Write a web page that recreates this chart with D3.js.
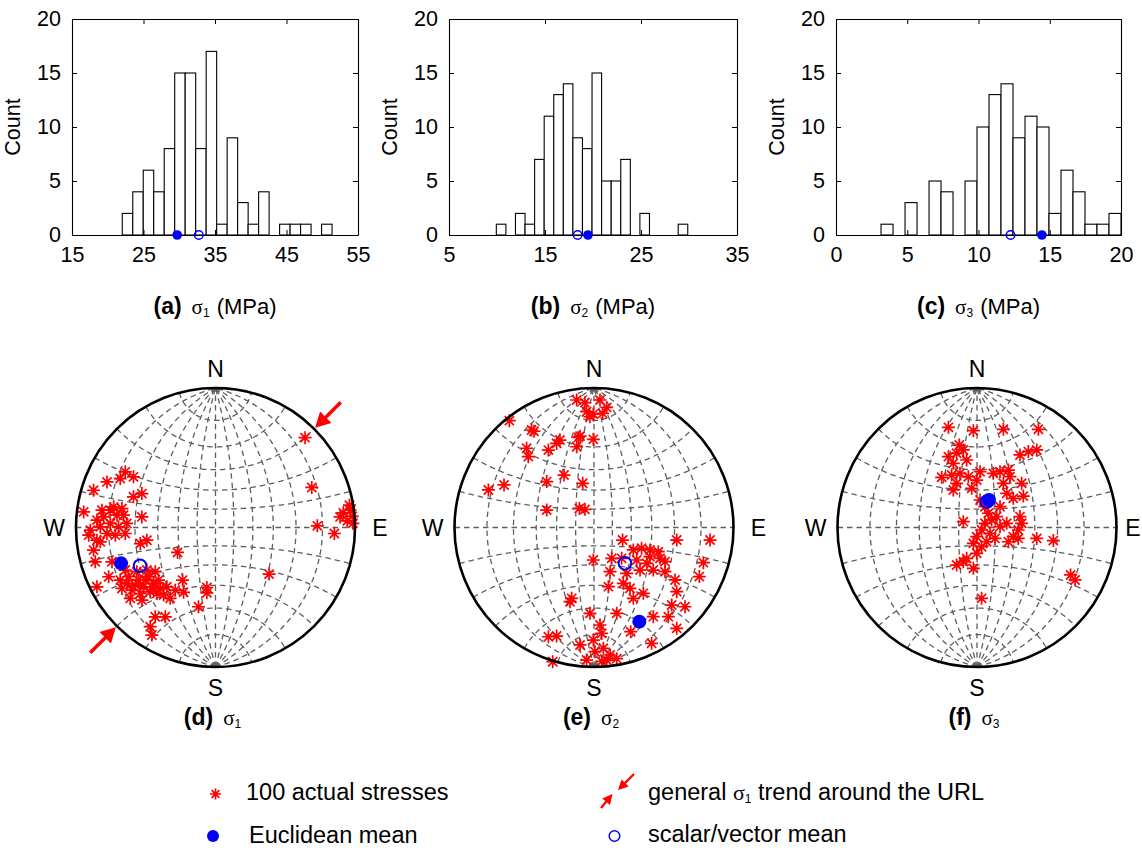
<!DOCTYPE html>
<html>
<head>
<meta charset="utf-8">
<script src="https://cdn.jsdelivr.net/npm/d3@7"></script>
<style>
  body { margin: 0; background: #fff; }
  svg text { font-family: "Liberation Sans", Arial, sans-serif; fill: #000; }
  .sym { font-family: "Liberation Serif", "Times New Roman", serif; }
</style>
</head>
<body>
<svg id="fig" width="1142" height="848"></svg>
<script>
// ---- histogram data (counts per bin, first bin edge and bin width, MPa) ----
const s1Counts = [2, 4, 6, 4, 8, 15, 15, 8, 17, 1, 9, 3, 1, 4, 0, 1, 1, 1, 0, 1];
const s1Bins = [22.03, 1.467];
const s2Counts = [1, 0, 2, 1, 7, 11, 13, 14, 9, 8, 15, 5, 5, 7, 0, 2, 0, 0, 0, 1];
const s2Bins = [9.93, 0.997];
const s3Counts = [1, 0, 3, 0, 5, 4, 0, 5, 10, 13, 14, 9, 11, 10, 2, 6, 4, 1, 1, 2];
const s3Bins = [3.16, 0.842];

// magnitudes of the means: [euclidean, scalar/vector]
const s1Means = [29.71, 32.74];
const s2Means = [19.48, 18.4];
const s3Means = [14.45, 12.25];

const s1XTicks = [15, 25, 35, 45, 55];
const s2XTicks = [5, 15, 25, 35];
const s3XTicks = [0, 5, 10, 15, 20];
const countTicks = [0, 5, 10, 15, 20];

// ---- stereonet data: projected positions [east, north], primitive radius = 1 ----
const s1Points = [
  [0.642, 0.644], [0.690, 0.287], [0.916, 0.105], [0.964, 0.124], [0.98, 0.08],
  [0.945, 0.048], [0.985, 0.03], [0.893, 0.076], [0.96, 0.16], [0.730, 0.012],
  [0.852, -0.043], [0.384, -0.334], [-0.272, -0.179], [-0.062, -0.430], [-0.062, -0.468],
  [-0.122, -0.568], [-0.236, -0.377], [-0.289, -0.449], [-0.229, -0.465], [-0.647, 0.399],
  [-0.683, 0.351], [-0.588, 0.363], [-0.778, 0.327], [-0.874, 0.267], [-0.528, 0.243],
  [-0.588, 0.220], [-0.528, 0.076], [-0.945, 0.112], [-0.850, 0.053], [-0.802, 0.076],
  [-0.754, 0.124], [-0.706, 0.088], [-0.659, 0.088], [-0.826, 0.005], [-0.754, 0.029],
  [-0.695, 0.005], [-0.778, -0.043], [-0.718, -0.055], [-0.647, -0.043], [-0.909, -0.055],
  [-0.850, -0.091], [-0.826, -0.103], [-0.874, -0.162], [-0.539, -0.115], [-0.492, -0.091],
  [-0.862, -0.246], [-0.742, -0.246], [-0.850, -0.425], [-0.766, -0.353], [-0.683, -0.377],
  [-0.635, -0.401], [-0.599, -0.449], [-0.611, -0.508], [-0.551, -0.377], [-0.516, -0.425],
  [-0.539, -0.473], [-0.480, -0.353], [-0.444, -0.401], [-0.468, -0.461], [-0.408, -0.377],
  [-0.396, -0.437], [-0.372, -0.484], [-0.492, -0.305], [-0.432, -0.317], [-0.564, -0.317],
  [-0.647, -0.305], [-0.325, -0.508], [-0.432, -0.640], [-0.360, -0.640], [-0.468, -0.711],
  [-0.456, -0.771], [-0.730, 0.148], [-0.671, 0.136], [-0.814, 0.124], [-0.897, -0.019],
  [-0.636, 0.029], [-0.504, -0.377], [-0.456, -0.425], [-0.575, -0.413], [-0.420, -0.473],
  [-0.527, -0.520], [-0.623, -0.353], [-0.671, -0.437], [-0.349, -0.425]
];
const s2Points = [
  [-0.124, 0.914], [-0.065, 0.895], [0.043, 0.914], [0.091, 0.861], [-0.053, 0.830],
  [-0.005, 0.813], [0.062, 0.818], [-0.029, 0.794], [-0.607, 0.766], [-0.447, 0.699],
  [-0.430, 0.690], [-0.483, 0.568], [-0.471, 0.508], [-0.327, 0.555], [-0.268, 0.603],
  [-0.244, 0.627], [-0.112, 0.646], [-0.124, 0.579], [-0.100, 0.655], [-0.005, 0.632],
  [-0.215, 0.376], [-0.339, 0.329], [-0.081, 0.317], [-0.757, 0.269], [-0.645, 0.305],
  [-0.339, 0.125], [-0.105, 0.137], [-0.065, 0.130], [0.205, -0.090], [0.593, -0.090],
  [0.832, -0.090], [-0.005, -0.233], [0.127, -0.221], [0.282, -0.161], [0.341, -0.149],
  [0.401, -0.161], [0.461, -0.173], [0.306, -0.233], [0.378, -0.257], [0.509, -0.245],
  [0.425, -0.305], [0.330, -0.305], [0.115, -0.317], [0.234, -0.329], [0.509, -0.317],
  [0.581, -0.376], [0.784, -0.252], [0.755, -0.352], [0.210, -0.400], [0.103, -0.424],
  [0.258, -0.436], [0.354, -0.472], [0.282, -0.508], [0.593, -0.460], [0.557, -0.556],
  [0.652, -0.568], [0.533, -0.639], [0.425, -0.639], [0.593, -0.723], [0.163, -0.615],
  [0.263, -0.747], [0.413, -0.830], [0.198, -0.221], [0.473, -0.221], [0.401, -0.209],
  [-0.160, -0.508], [-0.172, -0.532], [-0.029, -0.615], [0.043, -0.699], [0.055, -0.759],
  [-0.005, -0.807], [-0.100, -0.842], [0.067, -0.866], [0.115, -0.914], [-0.053, -0.950],
  [0.055, -0.960], [0.163, -0.940], [0.007, -0.890], [0.091, -0.950], [-0.327, -0.783],
  [-0.268, -0.778], [-0.296, -0.962]
];
const s3Points = [
  [-0.205, 0.718], [-0.026, 0.694], [0.189, 0.704], [0.440, 0.704], [-0.127, 0.591],
  [-0.098, 0.556], [-0.205, 0.508], [-0.170, 0.460], [-0.074, 0.484], [-0.146, 0.532],
  [0.308, 0.520], [0.368, 0.544], [0.428, 0.556], [-0.253, 0.360], [-0.182, 0.376],
  [-0.122, 0.388], [-0.062, 0.364], [-0.146, 0.317], [-0.170, 0.269], [-0.038, 0.281],
  [0.022, 0.400], [-0.002, 0.340], [0.117, 0.388], [0.165, 0.400], [0.225, 0.412],
  [0.236, 0.364], [0.189, 0.317], [0.320, 0.317], [0.332, 0.225], [0.260, 0.209],
  [0.213, 0.245], [0.022, 0.197], [0.057, 0.149], [0.081, 0.102], [0.105, 0.054],
  [0.057, 0.030], [0.141, 0.078], [0.165, 0.149], [0.033, -0.018], [0.093, -0.042],
  [0.165, 0.006], [0.213, 0.030], [-0.002, -0.066], [0.069, -0.102], [0.129, -0.078],
  [-0.026, -0.114], [0.033, -0.138], [0.308, 0.078], [0.320, 0.030], [0.296, -0.018],
  [0.260, -0.066], [0.225, -0.102], [0.296, -0.078], [-0.098, 0.042], [0.428, -0.078],
  [0.547, -0.094], [-0.002, -0.185], [-0.074, -0.221], [-0.146, -0.269], [-0.026, -0.293],
  [-0.098, -0.245], [0.671, -0.340], [0.703, -0.376], [0.033, -0.508]
];
// mean directions on the net: [euclidean, scalar/vector]
const s1NetMeans = [[-0.677, -0.257], [-0.541, -0.274]];
const s2NetMeans = [[0.325, -0.675], [0.222, -0.257]];
const s3NetMeans = [[0.086, 0.197], [0.07, 0.185]];
const trendArrow = 45; // general sigma1 trend, degrees from N

const svg = d3.select('#fig');
const RED = '#ff0000', BLUE = '#0000ff';

function caption(x, y, letter, sub, unit) {
    const t = svg.append('text').attr('x', x).attr('y', y).attr('text-anchor', 'middle');
    t.append('tspan').attr('font-weight', 'bold').attr('font-size', 23).text('(' + letter + ')');
    t.append('tspan').attr('class', 'sym').attr('dx', 10).attr('font-size', 21).text('σ');
    t.append('tspan').attr('font-size', 12).attr('dy', 3).text(sub);
    if (unit) t.append('tspan').attr('font-size', 22).attr('dy', -3).attr('dx', 7).text(unit);
}

function asterisk(g, x, y, r) {
    const d = r * Math.SQRT1_2;
    g.append('path')
        .attr('d', `M${x - r},${y}H${x + r}M${x},${y - r}V${y + r}` +
                   `M${x - d},${y - d}L${x + d},${y + d}M${x - d},${y + d}L${x + d},${y - d}`)
        .attr('stroke', RED).attr('stroke-width', 1.7).attr('fill', 'none');
}

function drawHist(left, right, domain, ticks, counts, bins, means, letter, sub) {
    const top = 19, bottom = 235;
    const x = d3.scaleLinear().domain(domain).range([left, right]);
    const y = d3.scaleLinear().domain([0, 20]).range([bottom, top]);
    const g = svg.append('g');

    g.selectAll('rect.bar').data(counts).enter().append('rect')
        .attr('x', (d, i) => x(bins[0] + i * bins[1]))
        .attr('width', (d, i) => x(bins[0] + (i + 1) * bins[1]) - x(bins[0] + i * bins[1]))
        .attr('y', d => y(d))
        .attr('height', d => y(0) - y(d))
        .attr('fill', '#fff').attr('stroke', '#000').attr('stroke-width', 1.1);

    g.append('g').attr('transform', `translate(0,${bottom})`)
        .call(d3.axisBottom(x).tickValues(ticks).tickSizeInner(-5).tickSizeOuter(0).tickPadding(12));
    g.append('g').attr('transform', `translate(0,${top})`)
        .call(d3.axisTop(x).tickValues(ticks).tickSizeInner(-5).tickSizeOuter(0).tickFormat(''));
    g.append('g').attr('transform', `translate(${left},0)`)
        .call(d3.axisLeft(y).tickValues(countTicks).tickSizeInner(-5).tickSizeOuter(0).tickPadding(11));
    g.append('g').attr('transform', `translate(${right},0)`)
        .call(d3.axisRight(y).tickValues(countTicks).tickSizeInner(-5).tickSizeOuter(0).tickFormat(''));
    g.selectAll('.domain').attr('stroke', '#000').attr('stroke-width', 1.1);
    g.selectAll('.tick line').attr('stroke', '#000');
    g.selectAll('.tick text').attr('font-size', 21.5).attr('fill', '#000')
        .attr('font-family', '"Liberation Sans", Arial, sans-serif');

    g.append('circle').attr('cx', x(means[0])).attr('cy', y(0)).attr('r', 4.8).attr('fill', BLUE);
    g.append('circle').attr('cx', x(means[1])).attr('cy', y(0)).attr('r', 4.3)
        .attr('fill', 'none').attr('stroke', BLUE).attr('stroke-width', 1.5);

    g.append('text').attr('transform', `translate(${left - 52},${(top + bottom) / 2}) rotate(-90)`)
        .attr('text-anchor', 'middle').attr('font-size', 21.5).text('Count');

    caption((left + right) / 2, 314, letter, sub, '(MPa)');
}

drawHist(72, 358, [15, 55], s1XTicks, s1Counts, s1Bins, s1Means, 'a', '1');
drawHist(449, 737, [5, 35], s2XTicks, s2Counts, s2Bins, s2Means, 'b', '2');
drawHist(836, 1121, [0, 20], s3XTicks, s3Counts, s3Bins, s3Means, 'c', '3');

function drawNet(cx, points, means, letter, sub, arrows) {
    const cy = 527.5, R = 139.5;
    const g = svg.append('g');
    const proj = d3.geoStereographic().scale(R).translate([cx, cy]).clipAngle(90).precision(0.1);
    const path = d3.geoPath(proj);
    const lines = [];
    d3.range(-75, 76, 15).forEach(lon => lines.push(
        { type: 'LineString', coordinates: d3.range(-90, 90.5, 1).map(lat => [lon, lat]) }));
    d3.range(-75, 76, 15).forEach(lat => lines.push(
        { type: 'LineString', coordinates: d3.range(-90, 90.5, 1).map(lon => [lon, lat]) }));
    g.selectAll('path.grid').data(lines).enter().append('path')
        .attr('d', path).attr('fill', 'none')
        .attr('stroke', '#5e5e5e').attr('stroke-width', 1.3).attr('stroke-dasharray', '5.5,4');

    const x = d3.scaleLinear().domain([-1, 1]).range([cx - R, cx + R]);
    const y = d3.scaleLinear().domain([-1, 1]).range([cy + R, cy - R]);

    points.forEach(p => asterisk(g, x(p[0]), y(p[1]), 6.5));

    g.append('circle').attr('cx', cx).attr('cy', cy).attr('r', R)
        .attr('fill', 'none').attr('stroke', '#000').attr('stroke-width', 2.6);

    g.append('circle').attr('cx', x(means[0][0])).attr('cy', y(means[0][1])).attr('r', 7).attr('fill', BLUE);
    g.append('circle').attr('cx', x(means[1][0])).attr('cy', y(means[1][1])).attr('r', 6.3)
        .attr('fill', 'none').attr('stroke', BLUE).attr('stroke-width', 2);

    if (arrows) {
        [trendArrow, trendArrow + 180].forEach(t => {
            const a = t * Math.PI / 180;
            const ux = Math.sin(a), uy = Math.cos(a);
            drawArrow(g, x(1.27 * ux), y(1.27 * uy), x(1.01 * ux), y(1.01 * uy), 15, 8, 3.4);
        });
    }

    const ex = Math.min(cx + R + 25, 1133);
    const lab = [['N', cx, cy - R - 11.5], ['S', cx, cy + R + 29], ['W', cx - R - 22, cy + 8], ['E', ex, cy + 8]];
    lab.forEach(l => g.append('text').attr('x', l[1]).attr('y', l[2])
        .attr('text-anchor', 'middle').attr('font-size', 23).text(l[0]));

    caption(cx - 3, 725, letter, sub, null);
}

function drawArrow(g, x0, y0, x1, y1, headLen, headHalf, shaft) {
    const ang = Math.atan2(y1 - y0, x1 - x0);
    const ux = Math.cos(ang), uy = Math.sin(ang);
    const bx = x1 - ux * headLen, by = y1 - uy * headLen;
    g.append('line').attr('x1', x0).attr('y1', y0).attr('x2', bx + ux).attr('y2', by + uy)
        .attr('stroke', RED).attr('stroke-width', shaft);
    g.append('path')
        .attr('d', `M${x1},${y1}L${bx - uy * headHalf},${by + ux * headHalf}L${bx + uy * headHalf},${by - ux * headHalf}Z`)
        .attr('fill', RED);
}

drawNet(215.5, s1Points, s1NetMeans, 'd', '1', true);
drawNet(594, s2Points, s2NetMeans, 'e', '2', false);
drawNet(977, s3Points, s3NetMeans, 'f', '3', false);

// ---- legend ----
const lg = svg.append('g');
asterisk(lg, 215.5, 794, 5.5);
lg.append('circle').attr('cx', 213).attr('cy', 836).attr('r', 6).attr('fill', BLUE);
lg.append('circle').attr('cx', 614.5).attr('cy', 836).attr('r', 5.3)
    .attr('fill', 'none').attr('stroke', BLUE).attr('stroke-width', 1.5);
drawArrow(lg, 634, 774, 618, 790, 10, 5, 2.2);
drawArrow(lg, 601, 808, 612.5, 794, 10, 5, 2.2);

lg.append('text').attr('x', 246).attr('y', 800).attr('font-size', 23.5).text('100 actual stresses');
lg.append('text').attr('x', 249).attr('y', 843).attr('font-size', 23.5).text('Euclidean mean');
lg.append('text').attr('x', 648).attr('y', 842).attr('font-size', 23.5).text('scalar/vector mean');
const gt = lg.append('text').attr('x', 648).attr('y', 800).attr('font-size', 23.5);
gt.append('tspan').text('general ');
gt.append('tspan').attr('class', 'sym').attr('font-size', 22).text('σ');
gt.append('tspan').attr('font-size', 12).attr('dy', 3).text('1');
gt.append('tspan').attr('dy', -3).text(' trend around the URL');
</script>
</body>
</html>
